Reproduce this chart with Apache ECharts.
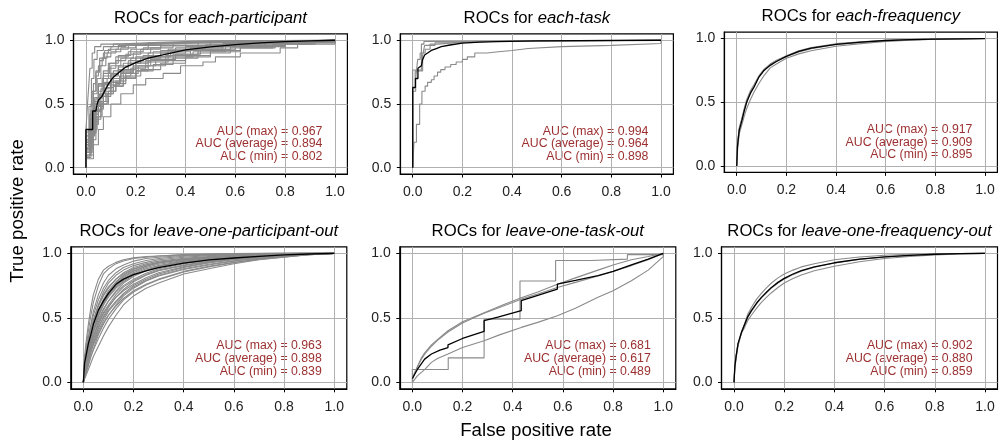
<!DOCTYPE html>
<html><head><meta charset="utf-8">
<script src="https://cdn.jsdelivr.net/npm/echarts@6/dist/echarts.min.js"></script>
<style>html,body{margin:0;padding:0;background:#fff}#c{width:999px;height:445px}</style>
</head><body><div id="c"></div>
<script>
// ---------- tick labels ----------
const xTicks = [0, 0.2, 0.4, 0.6, 0.8, 1.0];
const yTicks = [0, 0.5, 1.0];

// ---------- titles / annotations ----------
const titlePrefix = 'ROCs for ';
const titleNames = ['each-participant', 'each-task', 'each-freaquency',
  'leave-one-participant-out', 'leave-one-task-out', 'leave-one-freaquency-out'];
const aucMax = [0.967, 0.994, 0.917, 0.963, 0.681, 0.902];
const aucAvg = [0.894, 0.964, 0.909, 0.898, 0.617, 0.880];
const aucMin = [0.802, 0.898, 0.895, 0.839, 0.489, 0.859];

// ---------- panel 1: each-participant (step curves, [fpr,tpr]) ----------
const p1Gray = [
 [[0,0],[0,0.3],[0.008,0.55],[0.016,0.78],[0.025,0.9],[0.035,0.95],[0.06,0.97],[0.12,0.985],[0.3,0.995],[0.5,1],[1,1]],
 [[0,0],[0,0.22],[0.012,0.48],[0.022,0.7],[0.032,0.85],[0.045,0.92],[0.07,0.95],[0.11,0.97],[0.2,0.985],[0.4,0.995],[0.6,1],[1,1]],
 [[0,0],[0,0.28],[0.015,0.42],[0.025,0.6],[0.04,0.75],[0.055,0.86],[0.075,0.92],[0.1,0.95],[0.16,0.97],[0.3,0.985],[0.55,0.995],[1,1]],
 [[0,0],[0,0.18],[0.02,0.4],[0.03,0.58],[0.045,0.7],[0.06,0.8],[0.08,0.87],[0.1,0.91],[0.14,0.94],[0.2,0.96],[0.3,0.98],[0.5,0.99],[0.75,1],[1,1]],
 [[0,0],[0,0.12],[0.015,0.3],[0.03,0.5],[0.05,0.66],[0.07,0.76],[0.09,0.82],[0.12,0.87],[0.17,0.91],[0.23,0.94],[0.3,0.96],[0.45,0.98],[0.65,0.995],[1,1]],
 [[0,0],[0,0.25],[0.02,0.35],[0.035,0.5],[0.05,0.6],[0.065,0.7],[0.09,0.78],[0.12,0.84],[0.16,0.89],[0.22,0.93],[0.3,0.955],[0.4,0.97],[0.6,0.99],[0.8,1],[1,1]],
 [[0,0],[0,0.1],[0.02,0.25],[0.035,0.42],[0.05,0.55],[0.07,0.65],[0.1,0.74],[0.13,0.8],[0.18,0.86],[0.25,0.9],[0.33,0.93],[0.45,0.96],[0.6,0.98],[0.8,0.995],[1,1]],
 [[0,0],[0,0.15],[0.025,0.32],[0.04,0.45],[0.06,0.56],[0.08,0.63],[0.11,0.7],[0.15,0.77],[0.2,0.83],[0.26,0.87],[0.34,0.91],[0.42,0.94],[0.55,0.96],[0.7,0.98],[0.9,0.995],[1,1]],
 [[0,0],[0,0.2],[0.015,0.38],[0.03,0.52],[0.05,0.64],[0.07,0.72],[0.1,0.8],[0.14,0.86],[0.19,0.9],[0.26,0.94],[0.35,0.96],[0.5,0.98],[0.7,0.99],[1,1]],
 [[0,0],[0,0.08],[0.02,0.22],[0.04,0.38],[0.06,0.5],[0.09,0.6],[0.12,0.68],[0.16,0.74],[0.21,0.8],[0.28,0.85],[0.36,0.89],[0.46,0.93],[0.58,0.96],[0.75,0.985],[1,1]],
 [[0,0],[0,0.07],[0.03,0.18],[0.05,0.3],[0.07,0.4],[0.1,0.5],[0.14,0.58],[0.19,0.65],[0.24,0.7],[0.31,0.74],[0.38,0.8],[0.47,0.83],[0.52,0.87],[0.62,0.9],[0.78,0.94],[0.85,0.97],[0.92,0.99],[1,1]],
 [[0,0],[0,0.2],[0.02,0.32],[0.035,0.45],[0.05,0.55],[0.07,0.62],[0.1,0.7],[0.14,0.75],[0.19,0.8],[0.26,0.85],[0.35,0.89],[0.45,0.93],[0.6,0.96],[0.8,0.99],[1,1]],
 [[0,0],[0,0.16],[0.01,0.28],[0.025,0.44],[0.04,0.54],[0.06,0.62],[0.085,0.7],[0.11,0.76],[0.15,0.82],[0.2,0.87],[0.27,0.91],[0.36,0.94],[0.48,0.965],[0.65,0.985],[1,1]],
 [[0,0],[0,0.22],[0.02,0.5],[0.03,0.66],[0.04,0.76],[0.055,0.84],[0.07,0.9],[0.09,0.93],[0.13,0.96],[0.2,0.975],[0.3,0.99],[0.5,1],[1,1]],
 [[0,0],[0,0.12],[0.025,0.36],[0.04,0.48],[0.055,0.58],[0.075,0.67],[0.1,0.73],[0.13,0.79],[0.17,0.84],[0.23,0.88],[0.3,0.92],[0.4,0.95],[0.55,0.975],[0.75,0.99],[1,1]],
 [[0,0],[0,0.15],[0.015,0.3],[0.03,0.42],[0.05,0.52],[0.07,0.6],[0.1,0.67],[0.14,0.74],[0.19,0.79],[0.25,0.83],[0.33,0.87],[0.43,0.91],[0.56,0.95],[0.72,0.98],[1,1]],
 [[0,0],[0,0.1],[0.03,0.3],[0.045,0.4],[0.065,0.52],[0.09,0.6],[0.12,0.66],[0.16,0.72],[0.22,0.77],[0.3,0.82],[0.4,0.87],[0.5,0.91],[0.62,0.94],[0.76,0.97],[0.9,0.99],[1,1]],
 [[0,0],[0,0.18],[0.01,0.3],[0.02,0.45],[0.03,0.6],[0.04,0.72],[0.05,0.8],[0.065,0.86],[0.085,0.9],[0.12,0.93],[0.17,0.96],[0.25,0.98],[0.4,0.99],[0.65,1],[1,1]],
 [[0,0],[0,0.14],[0.02,0.26],[0.035,0.36],[0.05,0.46],[0.07,0.56],[0.1,0.65],[0.135,0.72],[0.18,0.78],[0.24,0.84],[0.32,0.88],[0.42,0.92],[0.56,0.95],[0.72,0.975],[0.88,0.99],[1,1]],
 [[0,0],[0,0.12],[0.02,0.27],[0.04,0.4],[0.06,0.5],[0.085,0.58],[0.11,0.64],[0.15,0.71],[0.2,0.76],[0.27,0.81],[0.35,0.86],[0.45,0.9],[0.58,0.94],[0.75,0.97],[1,1]],
 [[0,0],[0,0.09],[0.015,0.2],[0.03,0.34],[0.05,0.48],[0.07,0.58],[0.1,0.68],[0.14,0.76],[0.19,0.82],[0.25,0.87],[0.33,0.92],[0.44,0.95],[0.58,0.97],[0.78,0.99],[1,1]],
 [[0,0],[0,0.2],[0.025,0.42],[0.035,0.55],[0.05,0.65],[0.07,0.74],[0.095,0.82],[0.13,0.88],[0.18,0.93],[0.25,0.96],[0.35,0.98],[0.55,0.99],[0.8,1],[1,1]],
 [[0,0],[0,0.13],[0.02,0.28],[0.04,0.44],[0.06,0.52],[0.08,0.58],[0.11,0.64],[0.15,0.7],[0.2,0.76],[0.25,0.8],[0.32,0.84],[0.4,0.88],[0.5,0.92],[0.62,0.95],[0.8,0.98],[1,1]],
 [[0,0],[0,0.18],[0.02,0.33],[0.035,0.46],[0.05,0.57],[0.07,0.66],[0.1,0.72],[0.13,0.77],[0.17,0.82],[0.22,0.86],[0.3,0.9],[0.4,0.93],[0.55,0.96],[0.72,0.985],[1,1]]
];
const p1Mean = [[0,0],[0,0.3],[0.027,0.3],[0.027,0.445],[0.04,0.445],[0.045,0.5],[0.05,0.53],[0.064,0.56],[0.08,0.62],[0.091,0.66],[0.11,0.71],[0.131,0.746],[0.16,0.79],[0.2,0.825],[0.25,0.86],[0.3,0.882],[0.4,0.924],[0.5,0.948],[0.6,0.966],[0.7,0.98],[0.8,0.99],[0.9,0.996],[1,1]];

// ---------- panel 2: each-task ----------
const p2Gray = [
 [[0,0],[0,0.767],[0.035,0.97],[0.045,0.99],[0.1,1],[1,1]],
 [[0,0],[0,0.6],[0.012,0.7],[0.02,0.85],[0.03,0.9],[0.05,0.93],[0.07,0.97],[0.1,0.985],[0.2,0.995],[0.4,1],[1,1]],
 [[0,0],[0,0.62],[0.01,0.76],[0.04,0.88],[0.048,0.96],[0.09,0.98],[0.15,0.99],[0.3,1],[1,1]],
 [[0,0],[0.005,0],[0.005,0.2],[0.015,0.34],[0.028,0.5],[0.037,0.6],[0.05,0.64],[0.06,0.67],[0.075,0.69],[0.086,0.72],[0.1,0.75],[0.113,0.77],[0.13,0.79],[0.153,0.81],[0.175,0.83],[0.2,0.85],[0.22,0.87],[0.25,0.9],[0.3,0.91],[0.345,0.92],[0.4,0.935],[0.465,0.95],[0.6,0.96],[0.8,0.975],[1,1]]
];
const p2Mean = [[0,0],[0,0.63],[0.011,0.63],[0.011,0.7],[0.021,0.7],[0.021,0.78],[0.035,0.8],[0.04,0.85],[0.048,0.885],[0.06,0.9],[0.075,0.92],[0.095,0.935],[0.115,0.95],[0.15,0.963],[0.2,0.977],[0.27,0.985],[0.34,0.99],[0.5,0.995],[1,1]];

// ---------- panel 3: each-freaquency ----------
const p3Gray = [
 [[0,0],[0.003,0.18],[0.01,0.3],[0.02,0.37],[0.03,0.45],[0.04,0.52],[0.055,0.59],[0.07,0.64],[0.09,0.71],[0.11,0.76],[0.135,0.8],[0.16,0.83],[0.2,0.865],[0.25,0.905],[0.3,0.93],[0.4,0.96],[0.5,0.975],[0.6,0.987],[0.7,0.993],[0.8,0.997],[1,1]],
 [[0,0],[0.004,0.14],[0.01,0.25],[0.02,0.32],[0.03,0.39],[0.04,0.45],[0.055,0.52],[0.07,0.58],[0.09,0.65],[0.11,0.71],[0.135,0.77],[0.16,0.8],[0.2,0.845],[0.25,0.88],[0.3,0.905],[0.4,0.94],[0.5,0.96],[0.6,0.977],[0.7,0.988],[0.8,0.995],[1,1]],
 [[0,0],[0.003,0.16],[0.01,0.29],[0.02,0.36],[0.03,0.44],[0.04,0.5],[0.055,0.58],[0.07,0.63],[0.09,0.7],[0.11,0.75],[0.135,0.8],[0.16,0.825],[0.2,0.86],[0.25,0.895],[0.3,0.92],[0.4,0.953],[0.5,0.97],[0.6,0.982],[0.7,0.99],[0.8,0.995],[1,1]]
];
const p3Mean = [[0,0],[0.003,0.15],[0.01,0.28],[0.02,0.35],[0.03,0.43],[0.04,0.5],[0.055,0.57],[0.07,0.62],[0.09,0.7],[0.11,0.75],[0.135,0.79],[0.16,0.82],[0.2,0.86],[0.25,0.9],[0.3,0.925],[0.4,0.955],[0.5,0.972],[0.6,0.985],[0.7,0.992],[0.8,0.996],[1,1]];

// ---------- panel 4: leave-one-participant-out (shared FPR grid) ----------
const p4Fpr = [0,0.005,0.01,0.02,0.03,0.04,0.06,0.08,0.1,0.13,0.16,0.2,0.25,0.3,0.4,0.5,0.6,0.7,0.8,0.9,1];
const p4Tpr = [
 [0,0.2,0.3,0.45,0.58,0.68,0.8,0.87,0.9,0.93,0.95,0.965,0.975,0.98,0.99,0.995,0.998,1,1,1,1],
 [0,0.15,0.25,0.4,0.52,0.62,0.75,0.84,0.88,0.92,0.94,0.96,0.97,0.98,0.988,0.993,0.997,0.999,1,1,1],
 [0,0.12,0.2,0.33,0.45,0.55,0.68,0.77,0.83,0.88,0.91,0.94,0.96,0.97,0.983,0.99,0.995,0.998,1,1,1],
 [0,0.18,0.24,0.35,0.44,0.52,0.64,0.73,0.79,0.85,0.89,0.92,0.945,0.96,0.978,0.988,0.994,0.997,0.999,1,1],
 [0,0.1,0.17,0.28,0.38,0.47,0.6,0.7,0.77,0.83,0.87,0.905,0.93,0.95,0.97,0.982,0.99,0.995,0.998,1,1],
 [0,0.14,0.22,0.32,0.4,0.48,0.59,0.67,0.73,0.8,0.85,0.89,0.92,0.94,0.962,0.976,0.986,0.993,0.997,0.999,1],
 [0,0.08,0.14,0.24,0.33,0.41,0.54,0.64,0.71,0.78,0.83,0.875,0.91,0.93,0.955,0.972,0.983,0.99,0.996,0.999,1],
 [0,0.12,0.19,0.3,0.38,0.45,0.55,0.62,0.68,0.75,0.8,0.85,0.89,0.915,0.945,0.965,0.978,0.987,0.994,0.998,1],
 [0,0.06,0.12,0.22,0.31,0.39,0.51,0.6,0.67,0.74,0.79,0.84,0.88,0.905,0.94,0.96,0.975,0.985,0.993,0.998,1],
 [0,0.1,0.16,0.26,0.34,0.41,0.52,0.6,0.66,0.73,0.78,0.83,0.87,0.9,0.935,0.956,0.972,0.983,0.992,0.997,1],
 [0,0.05,0.1,0.19,0.27,0.35,0.47,0.56,0.63,0.71,0.77,0.82,0.865,0.895,0.93,0.952,0.968,0.98,0.99,0.997,1],
 [0,0.09,0.15,0.24,0.32,0.39,0.49,0.57,0.63,0.7,0.75,0.8,0.845,0.88,0.92,0.945,0.963,0.977,0.988,0.996,1],
 [0,0.07,0.12,0.21,0.29,0.36,0.46,0.54,0.6,0.68,0.74,0.79,0.835,0.87,0.91,0.94,0.96,0.975,0.987,0.995,1],
 [0,0.04,0.08,0.16,0.24,0.31,0.42,0.51,0.58,0.66,0.72,0.78,0.83,0.865,0.905,0.935,0.957,0.972,0.985,0.995,1],
 [0,0.08,0.13,0.2,0.27,0.33,0.43,0.5,0.56,0.63,0.69,0.75,0.8,0.84,0.89,0.925,0.95,0.968,0.983,0.994,1],
 [0,0.05,0.09,0.17,0.24,0.3,0.4,0.48,0.55,0.62,0.68,0.74,0.79,0.83,0.88,0.915,0.943,0.963,0.98,0.993,1],
 [0,0.03,0.07,0.13,0.2,0.26,0.37,0.45,0.52,0.6,0.67,0.73,0.785,0.825,0.875,0.91,0.94,0.96,0.978,0.992,1],
 [0,0.06,0.1,0.17,0.23,0.29,0.38,0.46,0.52,0.59,0.65,0.71,0.76,0.8,0.86,0.9,0.93,0.955,0.975,0.99,1],
 [0,0.04,0.07,0.14,0.2,0.25,0.34,0.42,0.49,0.57,0.64,0.7,0.755,0.795,0.855,0.895,0.927,0.952,0.973,0.99,1],
 [0,0.03,0.05,0.1,0.15,0.2,0.28,0.36,0.43,0.52,0.6,0.67,0.73,0.77,0.84,0.88,0.92,0.95,0.97,0.99,1],
 [0,0.11,0.18,0.29,0.39,0.48,0.6,0.68,0.74,0.8,0.84,0.88,0.91,0.93,0.955,0.97,0.98,0.988,0.995,0.999,1],
 [0,0.07,0.13,0.23,0.32,0.4,0.52,0.61,0.68,0.76,0.81,0.86,0.9,0.925,0.95,0.967,0.979,0.988,0.995,0.999,1],
 [0,0.05,0.11,0.2,0.28,0.35,0.45,0.53,0.59,0.66,0.71,0.76,0.81,0.85,0.895,0.93,0.955,0.972,0.986,0.995,1],
 [0,0.13,0.21,0.31,0.39,0.46,0.56,0.64,0.7,0.77,0.82,0.865,0.9,0.925,0.952,0.97,0.981,0.99,0.996,0.999,1]
];
const p4MeanTpr = [0,0.15,0.2,0.3,0.37,0.45,0.56,0.63,0.69,0.76,0.8,0.835,0.865,0.89,0.925,0.95,0.964,0.977,0.988,0.995,1];

// ---------- panel 5: leave-one-task-out ----------
const p5Step = [[0,0],[0,0.1],[0.143,0.19],[0.286,0.49],[0.429,0.786],[0.571,0.945],[0.714,0.955],[0.857,0.99],[1,1]];
const p5Gray = [
 [[0,0.02],[0.01,0.07],[0.02,0.12],[0.036,0.19],[0.05,0.23],[0.076,0.29],[0.1,0.33],[0.142,0.4],[0.2,0.47],[0.25,0.51],[0.286,0.54],[0.36,0.6],[0.434,0.655],[0.5,0.7],[0.578,0.76],[0.65,0.81],[0.74,0.87],[0.8,0.91],[0.873,0.95],[0.94,0.975],[1,1]],
 [[0,0.03],[0.01,0.08],[0.02,0.12],[0.036,0.18],[0.05,0.22],[0.076,0.28],[0.1,0.325],[0.142,0.39],[0.2,0.46],[0.25,0.505],[0.286,0.535],[0.36,0.59],[0.434,0.645],[0.5,0.685],[0.578,0.735],[0.65,0.775],[0.74,0.825],[0.8,0.86],[0.873,0.905],[0.94,0.95],[1,1]],
 [[0,0],[0.02,0.05],[0.05,0.1],[0.076,0.155],[0.1,0.185],[0.142,0.22],[0.2,0.27],[0.286,0.323],[0.35,0.37],[0.434,0.426],[0.5,0.465],[0.578,0.517],[0.65,0.575],[0.74,0.659],[0.8,0.71],[0.873,0.788],[0.94,0.87],[1,0.975],[1,1]]
];
const p5Mean = [[0,0.03],[0.02,0.1],[0.049,0.18],[0.076,0.22],[0.11,0.25],[0.142,0.27],[0.142,0.29],[0.2,0.34],[0.286,0.395],[0.286,0.478],[0.341,0.505],[0.434,0.556],[0.434,0.633],[0.5,0.675],[0.578,0.723],[0.578,0.762],[0.65,0.79],[0.74,0.827],[0.8,0.86],[0.873,0.91],[0.94,0.955],[1,1]];

// ---------- panel 6: leave-one-freaquency-out ----------
const p6Gray = [
 [[0,0],[0.003,0.1],[0.008,0.18],[0.016,0.28],[0.03,0.39],[0.043,0.46],[0.055,0.53],[0.069,0.58],[0.09,0.645],[0.109,0.69],[0.13,0.735],[0.149,0.77],[0.175,0.81],[0.2,0.84],[0.235,0.87],[0.268,0.895],[0.32,0.92],[0.4,0.95],[0.5,0.972],[0.6,0.985],[0.7,0.993],[0.8,0.997],[0.9,0.999],[1,1]],
 [[0,0],[0.003,0.13],[0.008,0.21],[0.016,0.3],[0.03,0.38],[0.043,0.43],[0.055,0.48],[0.069,0.52],[0.09,0.575],[0.109,0.62],[0.13,0.66],[0.149,0.695],[0.175,0.735],[0.2,0.77],[0.235,0.805],[0.268,0.832],[0.32,0.865],[0.4,0.9],[0.5,0.935],[0.6,0.96],[0.7,0.976],[0.8,0.988],[0.9,0.996],[1,1]],
 [[0,0],[0.003,0.12],[0.008,0.2],[0.016,0.3],[0.03,0.39],[0.043,0.45],[0.055,0.505],[0.069,0.55],[0.09,0.61],[0.109,0.655],[0.13,0.695],[0.149,0.73],[0.175,0.77],[0.2,0.8],[0.235,0.835],[0.268,0.862],[0.32,0.892],[0.4,0.925],[0.5,0.953],[0.6,0.972],[0.7,0.984],[0.8,0.993],[0.9,0.998],[1,1]]
];
const p6Mean = [[0,0],[0.003,0.12],[0.008,0.2],[0.016,0.3],[0.03,0.39],[0.043,0.452],[0.055,0.51],[0.069,0.556],[0.09,0.615],[0.109,0.659],[0.13,0.7],[0.149,0.736],[0.175,0.775],[0.2,0.806],[0.235,0.84],[0.268,0.866],[0.32,0.895],[0.4,0.927],[0.5,0.955],[0.6,0.973],[0.7,0.985],[0.8,0.993],[0.9,0.998],[1,1]];

// ---------- layout ----------
const FONT = "'Liberation Sans', Arial, sans-serif";
const GRAY = '#8a8a8a';
const grids = [
  {left: 73.5,  top: 33.9,  width: 273.9, height: 140.2},
  {left: 400.3, top: 33.9,  width: 273.1, height: 140.2},
  {left: 724.3, top: 32.2,  width: 273.1, height: 140.2},
  {left: 70.8,  top: 246.9, width: 276.0, height: 141.9},
  {left: 399.8, top: 246.9, width: 276.0, height: 141.9},
  {left: 721.5, top: 246.9, width: 276.0, height: 141.9}
];

const chart = echarts.init(document.getElementById('c'), null, {renderer: 'canvas'});

const series = [];
function addLine(gi, data, color, width, step, z) {
  series.push({
    type: 'line', xAxisIndex: gi, yAxisIndex: gi, data: data,
    symbol: 'none', showSymbol: false, step: step || false, silent: true,
    lineStyle: {color: color, width: width}, z: z, animation: false
  });
}
p1Gray.forEach(c => addLine(0, c, GRAY, 1.1, 'end', 2));
addLine(0, p1Mean, '#000', 1.3, false, 3);
p2Gray.forEach(c => addLine(1, c, GRAY, 1.1, 'end', 2));
addLine(1, p2Mean, '#000', 1.3, false, 3);
p3Gray.forEach(c => addLine(2, c, GRAY, 1.1, false, 2));
addLine(2, p3Mean, '#000', 1.3, false, 3);
p4Tpr.forEach(t => addLine(3, p4Fpr.map((f, i) => [f, t[i]]), GRAY, 1.1, false, 2));
addLine(3, p4Fpr.map((f, i) => [f, p4MeanTpr[i]]), '#000', 1.3, false, 3);
addLine(4, p5Step, GRAY, 1.1, 'end', 2);
p5Gray.forEach(c => addLine(4, c, GRAY, 1.1, false, 2));
addLine(4, p5Mean, '#000', 1.3, false, 3);
p6Gray.forEach(c => addLine(5, c, GRAY, 1.1, false, 2));
addLine(5, p6Mean, '#000', 1.3, false, 3);

const graphics = [];
grids.forEach((g, i) => {
  graphics.push({
    type: 'text', x: g.left + g.width / 2, y: g.top - 16, silent: true,
    style: {
      text: titlePrefix + '{i|' + titleNames[i] + '}',
      fontSize: 16.7, fontFamily: FONT, fill: '#000', align: 'center', verticalAlign: 'middle',
      rich: {i: {fontStyle: 'italic', fontSize: 16.7, fontFamily: FONT, fill: '#000'}}
    }
  });
  const lines = ['AUC (max) = ' + aucMax[i].toFixed(3),
                 'AUC (average) = ' + aucAvg[i].toFixed(3),
                 'AUC (min) = ' + aucMin[i].toFixed(3)];
  const bottom = g.top + g.height;
  lines.forEach((t, k) => {
    graphics.push({
      type: 'text', x: g.left + g.width - 25, y: bottom - 17.4 - (2 - k) * 12.7, silent: true,
      style: {text: t, fontSize: 12.3, fontFamily: FONT, fill: '#9c3030', align: 'right', verticalAlign: 'middle'}
    });
  });
});
graphics.push({
  type: 'text', x: 18, y: 211, rotation: Math.PI / 2, silent: true,
  style: {text: 'True positive rate', fontSize: 18.7, fontFamily: FONT, fill: '#000', align: 'center', verticalAlign: 'middle'}
});
graphics.push({
  type: 'text', x: 536, y: 431, silent: true,
  style: {text: 'False positive rate', fontSize: 18.7, fontFamily: FONT, fill: '#000', align: 'center', verticalAlign: 'middle'}
});

const option = {
  animation: false,
  backgroundColor: '#fff',
  textStyle: {fontFamily: FONT},
  grid: grids.map(g => Object.assign({show: true, borderColor: '#000', borderWidth: 1.2,
    backgroundColor: 'transparent', containLabel: false, outerBoundsMode: 'none'}, g)),
  xAxis: grids.map((g, i) => ({
    type: 'value', gridIndex: i, min: -0.05, max: 1.05,
    axisLine: {show: true, onZero: false, lineStyle: {color: '#000', width: 1.2}},
    axisTick: {show: true, length: 3.5, customValues: xTicks, lineStyle: {color: '#000', width: 1}},
    axisLabel: {customValues: xTicks, formatter: v => v.toFixed(1), fontSize: 14, color: '#222', margin: 11, fontFamily: FONT},
    splitLine: {show: true, lineStyle: {color: '#b0b0b0', width: 1}}
  })),
  yAxis: grids.map((g, i) => ({
    type: 'value', gridIndex: i, min: -0.05, max: 1.05,
    axisLine: {show: true, onZero: false, lineStyle: {color: '#000', width: 1.2}},
    axisTick: {show: true, length: 3.5, customValues: yTicks, lineStyle: {color: '#000', width: 1}},
    axisLabel: {customValues: yTicks, formatter: v => v.toFixed(1), fontSize: 14, color: '#222', margin: 9, fontFamily: FONT},
    splitLine: {show: true, lineStyle: {color: '#b0b0b0', width: 1}}
  })),
  series: series,
  graphic: graphics
};
chart.setOption(option);
</script>
</body></html>
